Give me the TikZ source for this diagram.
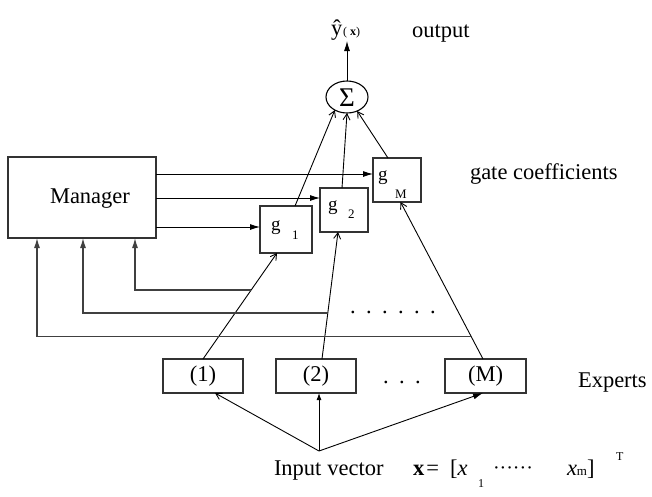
\documentclass[tikz,border=0pt]{standalone}
\usepackage{fontspec}
\setmainfont{Liberation Serif}
\usetikzlibrary{arrows.meta,calc,shapes.geometric}
\begin{document}
\begin{tikzpicture}[x=1pt,y=-1pt,
  every node/.style={inner sep=0pt, outer sep=0pt},
  txt/.style={font=\fontsize{22.5}{27}\selectfont, anchor=base west},
  gtxt/.style={font=\fontsize{19}{21}\selectfont, anchor=base west},
  subtxt/.style={font=\fontsize{13}{15}\selectfont, anchor=base west},
  tinytxt/.style={font=\fontsize{12}{14}\selectfont, anchor=base west},
  box/.style={draw=black!80, line width=1.1pt, rectangle},
  wire/.style={line width=0.9pt, black},
  fb/.style={line width=1.1pt, black!75},
  solidtip/.style={-{Latex[length=10pt,width=6pt]}},
  smalltip/.style={-{Latex[length=7pt,width=5pt]}},
  barbtip/.style={-{Straight Barb[length=6pt,width=7pt]}},
]
\useasboundingbox (0,0) rectangle (652,496);

% boxes
\node[box, minimum width=148pt, minimum height=81pt] (mgr) at (82,197.5) {};
\node[txt] (mgrlbl) at (50,203) {Manager};
\node[box, minimum width=52pt, minimum height=47pt] (g1) at (286,229.5) {};
\node[box, minimum width=48pt, minimum height=44pt] (g2) at (344,210) {};
\node[box, minimum width=48pt, minimum height=44pt] (gM) at (397,180) {};
\node[gtxt] (g1g) at (271,230) {g};
\node[subtxt] (g1s) at (292,239) {1};
\node[gtxt] (g2g) at (328,210) {g};
\node[subtxt] (g2s) at (348,218) {2};
\node[gtxt] (gMg) at (378,180) {g};
\node[subtxt] (gMs) at (395,198) {M};

\node[draw, ellipse, line width=1.1pt, minimum width=42pt, minimum height=32pt] (sig) at (347,97) {};
\node[font=\fontsize{27}{27}\selectfont] (sigtxt) at (347,97.5) {Σ};
\coordinate (yout) at (347,41);

\node[box, minimum width=80pt, minimum height=34pt, font=\fontsize{22.5}{27}\selectfont] (e1) at (203,376) {(1)};
\node[box, minimum width=80pt, minimum height=34pt, font=\fontsize{22.5}{27}\selectfont] (e2) at (316,376) {(2)};
\node[box, minimum width=81pt, minimum height=34pt, font=\fontsize{22.5}{27}\selectfont] (eM) at (485.5,376) {(M)};

% labels
\node[txt] (yhat) at (331,35) {ŷ};
\node[font=\fontsize{12}{14}\selectfont, anchor=base west] (yx) at (343,35) {( \textbf{x})};
\node[txt] (outlbl) at (412,37) {output};
\node[txt] (gclbl) at (470,179) {gate coefficients};
\node[txt] (explbl) at (578,387) {Experts};
\node[txt] (edots) at (383,383) {.\hspace{10.4pt}.\hspace{10.4pt}.};
\node[txt] (fdots) at (350,313) {.\hspace{10.4pt}.\hspace{10.4pt}.\hspace{10.4pt}.\hspace{10.4pt}.\hspace{10.4pt}.};

% input vector line
\node[txt] (inlbl) at (274,475) {Input\hspace{6pt}vector};
\node[txt] (xeq) at (413,475) {\textbf{x}\hspace{2pt}=};
\node[txt] (xone) at (450,475) {[\textit{x}};
\node[tinytxt] (sub1) at (478,487) {1};
\node[font=\fontsize{20}{24}\selectfont, anchor=base west] (cdots) at (493,474) {······};
\node[txt] (xm) at (567,475) {\textit{x}{\fontsize{13}{15}\selectfont m}]};
\node[tinytxt] (sup) at (616,460) {T};

% connectors
\draw[wire, solidtip] (sig.north) -- (yout);

\coordinate (gMin) at ([yshift=6pt]gM.west);
\coordinate (g2in) at ([yshift=12pt]g2.west);
\coordinate (g1in) at ([yshift=2.5pt]g1.west);
\draw[wire, solidtip] (mgr.east |- gMin) -- (gMin);
\draw[wire, solidtip] (mgr.east |- g2in) -- (g2in);
\draw[wire, solidtip] (mgr.east |- g1in) -- (g1in);

\draw[wire, barbtip] ([xshift=9pt]g1.north) -- (sig.227);
\draw[wire, barbtip] ([xshift=-2pt]g2.north) -- (sig.south);
\draw[wire, barbtip] ([xshift=-9pt]gM.north) -- (sig.306);

\coordinate (t1) at ([xshift=-9pt]g1.south);
\coordinate (t2) at ([xshift=-6pt]g2.south);
\coordinate (t3) at ([xshift=3.5pt]gM.south);
\coordinate (s1) at (e1.north);
\coordinate (s2) at ([xshift=6pt]e2.north);
\coordinate (s3) at ([xshift=-2.5pt]eM.north);
\draw[wire, barbtip] (s1) -- (t1);
\draw[wire, barbtip] (s2) -- (t2);
\draw[wire, barbtip] (s3) -- (t3);

\coordinate (f1) at ($(s1)!0.651!(t1)$);
\coordinate (f2) at ($(s2)!0.362!(t2)$);
\coordinate (f3) at ($(s3)!0.146!(t3)$);
\draw[fb, solidtip] (f1) -| ([xshift=53pt]mgr.south);
\draw[fb, solidtip] (f2) -| ([xshift=1pt]mgr.south);
\draw[fb, solidtip] (f3) -| ([xshift=-45pt]mgr.south);

\coordinate (inp) at (319,451);
\draw[wire, barbtip] (inp) -- ([xshift=12pt]e1.south);
\draw[wire, smalltip] (inp) -- (inp |- e2.south);
\draw[wire, solidtip] (inp) -- ([xshift=-2.5pt]eM.south);
\end{tikzpicture}
\end{document}
